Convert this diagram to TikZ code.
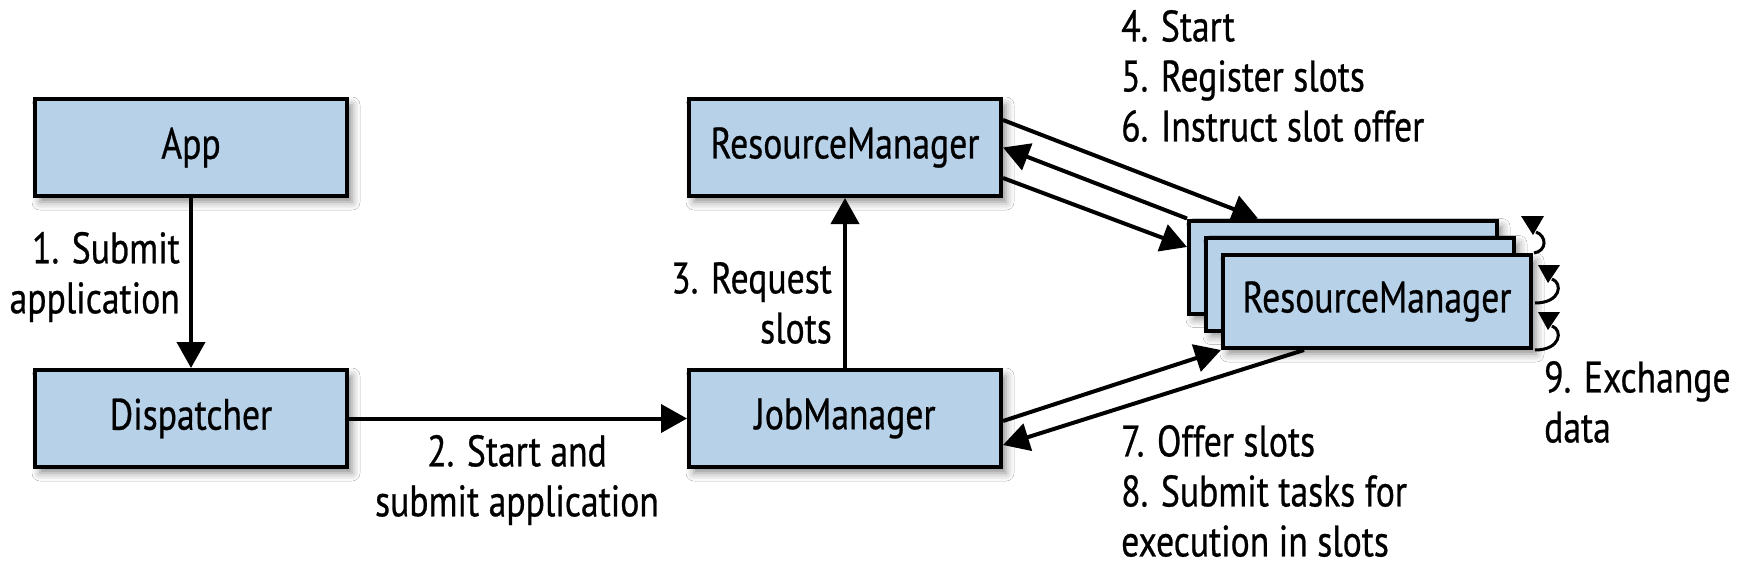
\documentclass[tikz,border=0pt]{standalone}
\usepackage{fontspec}
\setmainfont[FakeStretch=0.81,FakeBold=0.6]{PT Sans}
\usetikzlibrary{arrows.meta,shadows.blur,calc}
\definecolor{boxblue}{RGB}{183,209,232}
\begin{document}
\begin{tikzpicture}[x=1pt,y=-1pt,
  every node/.style={font=\fontsize{44}{50}\selectfont},
  box/.style={draw=black, line width=4pt, fill=boxblue, minimum width=312pt, minimum height=97pt, inner sep=0pt,
    blur shadow={shadow xshift=5pt, shadow yshift=-6pt, shadow blur radius=8pt, shadow opacity=45}},
  tmbox/.style={box, minimum width=308pt, minimum height=93pt},
  lbl/.style={inner sep=0pt},
  conn/.style={line width=4pt, -{Triangle[length=26pt,width=28pt]}},
  curl/.style={line width=3pt},
  curlhead/.style={fill=black}
]
\fill[white] (0,0) rectangle (1744,576);
\useasboundingbox (0,0) rectangle (1744,576);

\node[box] (app) at (191,147.5) {App};
\node[box] (disp) at (191,418.5) {Dispatcher};
\node[box] (rm) at (845,147.5) {ResourceManager};
\node[box] (jm) at (845,418.5) {JobManager};

\node[tmbox] (tmb) at (1343,267) {};
\node[tmbox] (tmm) at (1360,284) {};
\node[tmbox] (tmf) at (1377,301.5) {ResourceManager};

\draw[conn] (app) -- (disp);
\draw[conn] (disp) -- (jm);
\draw[conn] (jm) -- (rm);

\draw[conn] ([yshift=27.5pt]rm.east) -- ([xshift=-85pt]tmb.north);
\draw[conn] (tmb.north west) -- (rm.east);
\draw[conn] ([yshift=-30.5pt]rm.east) -- ([yshift=20pt]tmb.west);

\draw[conn] ([yshift=-2.5pt]jm.east) -- (tmf.south west);
\draw[conn] ([xshift=-73pt]tmf.south) -- ([yshift=-26.5pt]jm.east);

% self-loops (9. Exchange data)
\coordinate (c1) at ([xshift=1pt]tmf.north east);
\coordinate (c2) at ([xshift=2pt,yshift=-1.5pt]tmf.east);
\coordinate (c3) at ([xshift=2pt]tmf.south east);
\draw[curl] (c1) .. controls ($(c1)+(13,-2)$) and ($(c1)+(13,-17)$) .. ($(c1)+(2,-21)$);
\fill[curlhead] ($(c1)+(-13,-37)$) -- ($(c1)+(10,-37)$) -- ($(c1)+(-1,-18)$) -- cycle;
\draw[curl] (c2) .. controls ($(c2)+(26,0)$) and ($(c2)+(28,-20)$) .. ($(c2)+(17,-24)$);
\fill[curlhead] ($(c2)+(3,-38)$) -- ($(c2)+(25,-38)$) -- ($(c2)+(13,-20)$) -- cycle;
\draw[curl] (c3) .. controls ($(c3)+(26,0)$) and ($(c3)+(28,-20)$) .. ($(c3)+(17,-24)$);
\fill[curlhead] ($(c3)+(3,-38)$) -- ($(c3)+(25,-38)$) -- ($(c3)+(13,-20)$) -- cycle;

\node[lbl, anchor=east, align=right] (l1) at (180,277) {1. Submit\\application};
\node[lbl, align=center] (l2) at (517,480) {2. Start and\\submit application};
\node[lbl, anchor=east, align=right] (l3) at (832,303) {3. Request\\slots};
\node[lbl, anchor=west, align=left] (l4) at (1121,76) {4. Start\\5. Register slots\\6. Instruct slot offer};
\node[lbl, anchor=west, align=left] (l7) at (1121,491) {7. Offer slots\\8. Submit tasks for\\execution in slots};
\node[lbl, anchor=west, align=left] (l9) at (1544,402) {9. Exchange\\data};
\end{tikzpicture}
\end{document}
